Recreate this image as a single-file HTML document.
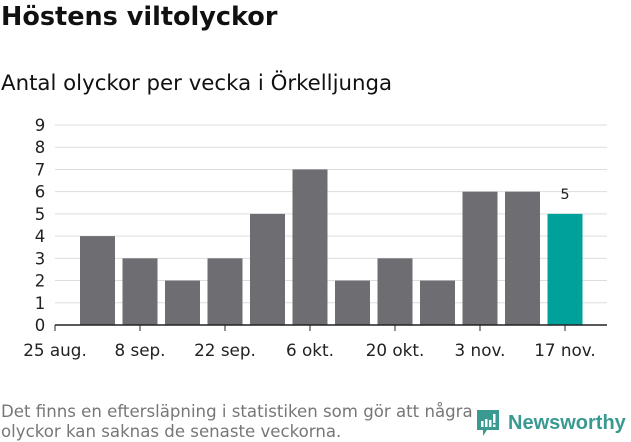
<!DOCTYPE html>
<html><head><meta charset="utf-8"><style>
body{margin:0;width:631px;height:439px;background:#fff;font-family:"DejaVu Sans","Liberation Sans",sans-serif;overflow:hidden;position:relative}
#title{position:absolute;left:1px;top:2px;font-size:25.5px;font-weight:bold;color:#111}
#sub{position:absolute;left:1px;top:71px;font-size:21.3px;color:#111}
#note{position:absolute;left:1px;top:402px;font-size:16.6px;color:#777;line-height:20px}
#logo{position:absolute;left:476px;top:408px}
</style></head><body>
<div id="title">Höstens viltolyckor</div>
<div id="sub">Antal olyckor per vecka i Örkelljunga</div>
<svg id="chart" width="631" height="439" style="position:absolute;left:0;top:0"></svg>
<div id="note">Det finns en eftersläpning i statistiken som gör att några<br>olyckor kan saknas de senaste veckorna.</div>
<svg id="logo" width="155" height="32">
<path d="M1 2h22v20h-12l-4 6v-6h-6z" fill="#3a9a91"/>
<rect x="5" y="13" width="2.5" height="6" fill="#fff"/><rect x="9" y="11" width="2.5" height="8" fill="#fff"/><rect x="13" y="12" width="2.5" height="7" fill="#fff"/><rect x="17" y="6" width="2.5" height="9" fill="#fff"/><rect x="17" y="16.5" width="2.5" height="2.5" fill="#fff"/>
<text x="32" y="21" font-size="20" font-weight="bold" fill="#3a9a91" font-family="Liberation Sans,sans-serif">Newsworthy</text>
</svg>
<script>
const categories=["25 aug.","1 sep.","8 sep.","15 sep.","22 sep.","29 sep.","6 okt.","13 okt.","20 okt.","27 okt.","3 nov.","10 nov.","17 nov."];
const values=[0,4,3,2,3,5,7,2,3,2,6,6,5];
const yTicks=[0,1,2,3,4,5,6,7,8,9];
const NS="http://www.w3.org/2000/svg";
const svg=document.getElementById('chart');
const x0=55,step=42.5,y0=325,yUnit=200/9;
const X=i=>x0+i*step, Y=v=>y0-v*yUnit;
function mk(t,a){const e=document.createElementNS(NS,t);for(const k in a)e.setAttribute(k,a[k]);svg.appendChild(e);return e;}
yTicks.forEach(t=>{
  if(t>0){const g=mk('line',{x1:55,x2:607,y1:Y(t),y2:Y(t),stroke:'#ddd'});
  
  }
  const l=mk('text',{x:40,y:Y(t)+6,'text-anchor':'middle','font-size':16.5,fill:'#222'});l.textContent=t;
  
  
});
values.forEach((v,i)=>{
  if(v<=0)return;
  const last=i===values.length-1;
  const r=mk('rect',{x:X(i)-17.5,y:Y(v),width:35,height:v*yUnit,fill:last?'#00a19a':'#6e6d72'});
  
  
  if(last){const t=mk('text',{x:X(i),y:Y(v)-15,'text-anchor':'middle','font-size':14.5,fill:'#222'});t.textContent=v;
  
  }
});
const ax=mk('line',{x1:55,x2:607,y1:y0,y2:y0,stroke:'#222','stroke-width':1.5});


categories.forEach((c,i)=>{
  if(i%2)return;
  const tk=mk('line',{x1:X(i),x2:X(i),y1:y0,y2:y0+6,stroke:'#222'});
  
  
  const t=mk('text',{x:X(i),y:356,'text-anchor':'middle','font-size':16.8,fill:'#222'});t.textContent=c;
  
  
});
</script>
</body></html>
